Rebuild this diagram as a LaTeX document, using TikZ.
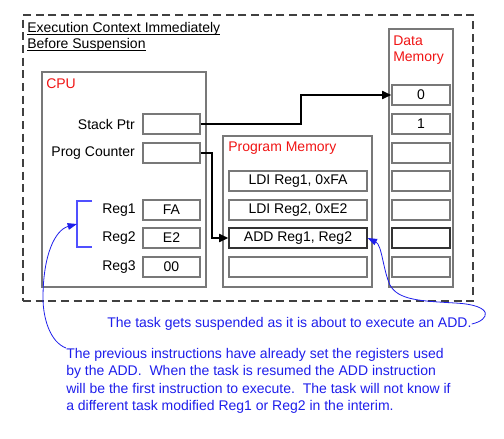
\documentclass[tikz,border=0pt]{standalone}
\usepackage{fontspec}
\setmainfont{Liberation Sans}
\usetikzlibrary{arrows.meta}
\newcommand\myul[1]{\setbox0=\hbox{#1}\leavevmode\rlap{\rule[-1.6pt]{\wd0}{0.55pt}}\box0}
\definecolor{ublue}{RGB}{30,30,235}
\definecolor{lblue}{RGB}{80,80,255}
\definecolor{ured}{RGB}{240,20,20}
\definecolor{boxgray}{RGB}{120,120,120}
\tikzset{
  x=0.75pt, y=-0.75pt,
  every node/.style={font=\fontsize{10.5}{13.1}\selectfont},
  frame/.style={draw=boxgray, line width=0.9pt, inner sep=0pt},
  cell/.style={draw=boxgray, line width=0.9pt, inner sep=0pt, minimum height=15pt},
  regbox/.style={cell, minimum width=42.75pt},
  instbox/.style={cell, minimum width=103.5pt},
  datacell/.style={cell, minimum width=43.5pt},
  hot/.style={draw=black!80},
  boxtitle/.style={text=ured, inner sep=0pt},
  reglabel/.style={anchor=east, inner sep=0pt},
  ptrarrow/.style={line width=1.5pt, -{Triangle[length=7pt,width=6pt]}},
  note/.style={text=ublue, inner sep=0pt, align=left},
  notearrow/.style={draw=ublue, line width=0.6pt, -{Triangle[length=7pt,width=5pt]}},
}
\begin{document}
\begin{tikzpicture}
\useasboundingbox (0,0) rectangle (504,439);
% outer dashed frame
\node[draw=black!75, line width=1pt, dash pattern=on 6pt off 3.5pt, minimum width=337.5pt, minimum height=214.5pt, inner sep=0pt] (ctx) at (248,158) {};
\node[anchor=north west, inner sep=0pt, align=left, font=\fontsize{10.5}{12}\selectfont] (ctxtitle) at (27,22) {\myul{Execution Context Immediately}\\\myul{Before Suspension}};
% CPU
\node[frame, minimum width=123pt, minimum height=161.25pt] (cpu) at (124,179.5) {};
\node[boxtitle, anchor=west] (cputitle) at (46,84) {CPU};
\node[regbox] (sp) at (171.5,124) {};
\node[regbox] (pc) at (171.5,153) {};
\node[regbox] (r1) at (171.5,210) {FA};
\node[regbox] (r2) at (171.5,238) {E2};
\node[regbox] (r3) at (171.5,267) {00};
\node[reglabel] (spl) at (135,124) {Stack Ptr};
\node[reglabel] (pcl) at (135,153) {Prog Counter};
\node[reglabel] (r1l) at (136,210) {Reg1};
\node[reglabel] (r2l) at (136,238) {Reg2};
\node[reglabel] (r3l) at (136,267) {Reg3};
% Program memory
\node[frame, minimum width=111.75pt, minimum height=113.25pt] (pm) at (297.5,211.5) {};
\node[boxtitle, anchor=west] (pmtitle) at (228,148) {Program Memory};
\node[instbox] (i1) at (298,181) {LDI Reg1, 0xFA};
\node[instbox] (i2) at (298,210) {LDI Reg2, 0xE2};
\node[instbox, hot] (add) at (298,238) {ADD Reg1, Reg2};
\node[instbox] (i4) at (298,267) {};
% Data memory
\node[frame, minimum width=48pt, minimum height=193.5pt] (dm) at (421,158) {};
\node[boxtitle, anchor=north west, align=left, font=\fontsize{10.5}{12}\selectfont] (dmtitle) at (393,36) {Data\\Memory};
\node[datacell] (d0) at (421,95) {0};
\node[datacell] (d1) at (421,124) {1};
\node[datacell] (d2) at (421,153) {};
\node[datacell] (d3) at (421,181) {};
\node[datacell] (d4) at (421,210) {};
\node[datacell, hot] (d5) at (421,238) {};
\node[datacell] (d6) at (421,267) {};
% pointer arrows
\draw[ptrarrow] (sp.east) -- (301,124) |- (d0.west);
\draw[ptrarrow] (pc.east) -- (212,153) |- (add.west);
% bracket
\draw[lblue, line width=0.8pt] (92,201) -- (77,201) -- (77,247) -- (92,247);
\coordinate (br) at (77,224);
% notes
\node[note, anchor=west] (n1) at (107,324) {The task gets suspended as it is about to execute an ADD.};
\node[note, anchor=north west] (n2) at (66,348) {The previous instructions have already set the registers used\\by the ADD.\ \ When the task is resumed the ADD instruction\\will be the first instruction to execute.\ \ The task will not know if\\a different task modified Reg1 or Reg2 in the interim.};
\draw[notearrow] (n2.north west) .. controls (50,342) and (43,318) .. (43,298) .. controls (43,255) and (55,230) .. (br);
\draw[notearrow] (n1.east) .. controls (490,320) and (495,305) .. (455,303) .. controls (420,301) and (398,300) .. (390,285) .. controls (383,270) and (382,245) .. (add.east);
\end{tikzpicture}
\end{document}
